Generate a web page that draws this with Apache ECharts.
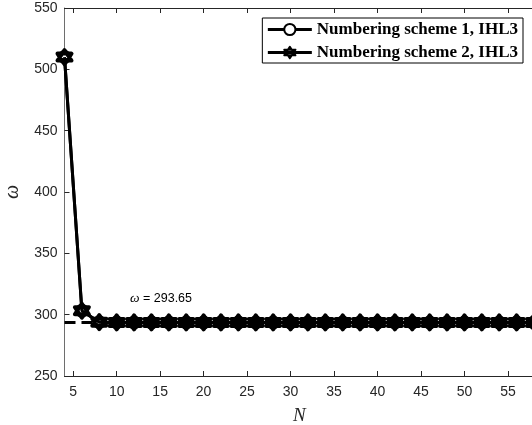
<!DOCTYPE html>
<html>
<head>
<meta charset="utf-8">
<script src="https://cdn.jsdelivr.net/npm/echarts@6/dist/echarts.min.js"></script>
<style>
  html, body { margin: 0; padding: 0; background: #fff; }
  #chart { width: 532px; height: 425px; }
</style>
</head>
<body>
<div id="chart"></div>
<script>
// Number of elements N and the resulting eigenfrequency omega
const nValues = [4, 6, 8, 10, 12, 14, 16, 18, 20, 22, 24, 26, 28, 30, 32, 34, 36, 38, 40, 42, 44, 46, 48, 50, 52, 54, 56, 58];
const omegaScheme1 = [510, 303.2, 293.9, 293.7, 293.65, 293.65, 293.65, 293.65, 293.65, 293.65, 293.65, 293.65, 293.65, 293.65, 293.65, 293.65, 293.65, 293.65, 293.65, 293.65, 293.65, 293.65, 293.65, 293.65, 293.65, 293.65, 293.65, 293.65];
const omegaScheme2 = [510, 303.2, 293.9, 293.7, 293.65, 293.65, 293.65, 293.65, 293.65, 293.65, 293.65, 293.65, 293.65, 293.65, 293.65, 293.65, 293.65, 293.65, 293.65, 293.65, 293.65, 293.65, 293.65, 293.65, 293.65, 293.65, 293.65, 293.65];
const seriesNames = ['Numbering scheme 1, IHL3', 'Numbering scheme 2, IHL3'];
const xTicks = [5, 10, 15, 20, 25, 30, 35, 40, 45, 50, 55];
const convergedOmega = 293.65;

const hexagram = 'path://M0,-10L8.66,5L-8.66,5Z M0,10L8.66,-5L-8.66,-5Z';
const axisColor = '#262626';

const chart = echarts.init(document.getElementById('chart'));
chart.setOption({
  animation: false,
  backgroundColor: '#fff',
  grid: { left: 64.5, right: -2, top: 8, bottom: 49, outerBoundsMode: 'none', containLabel: false },
  legend: {
    orient: 'vertical',
    right: 9,
    top: 18,
    data: seriesNames,
    itemWidth: 44,
    itemHeight: 14,
    itemGap: 6,
    padding: [3, 5, 2, 4],
    borderColor: '#000',
    borderWidth: 1,
    backgroundColor: '#fff',
    lineStyle: { width: 3, color: '#000' },
    textStyle: { fontFamily: 'Liberation Serif', fontWeight: 'bold', fontSize: 17, color: '#000' }
  },
  xAxis: [{
    type: 'value', min: 4, max: 58,
    name: 'N', nameLocation: 'middle', nameGap: 30,
    nameTextStyle: { fontFamily: 'Liberation Serif', fontStyle: 'italic', fontSize: 19, color: axisColor },
    axisLine: { show: true, onZero: false, lineStyle: { color: axisColor, width: 1 } },
    axisTick: { show: true, inside: true, length: 5, customValues: xTicks, lineStyle: { color: axisColor } },
    axisLabel: { customValues: xTicks, margin: 9, fontFamily: 'Liberation Sans', fontSize: 14, color: axisColor },
    splitLine: { show: false }
  }, {
    type: 'value', min: 4, max: 58, position: 'top',
    axisLine: { show: true, onZero: false, lineStyle: { color: axisColor, width: 1 } },
    axisTick: { show: true, inside: true, length: 5, customValues: xTicks, lineStyle: { color: axisColor } },
    axisLabel: { show: false },
    splitLine: { show: false }
  }],
  yAxis: [{
    type: 'value', min: 250, max: 550, interval: 50,
    name: 'ω', nameLocation: 'middle', nameGap: 42, nameRotate: 90,
    nameTextStyle: { fontFamily: 'Liberation Serif', fontStyle: 'italic', fontSize: 20, color: axisColor },
    axisLine: { show: true, onZero: false, lineStyle: { color: '#6e6e6e', width: 1 } },
    axisTick: { show: true, inside: true, length: 5, lineStyle: { color: axisColor } },
    axisLabel: { margin: 7, fontFamily: 'Liberation Sans', fontSize: 14, color: axisColor },
    splitLine: { show: false }
  }],
  series: [{
    name: 'converged',
    type: 'line',
    data: [[4, convergedOmega], [58, convergedOmega]],
    symbol: 'none',
    lineStyle: { color: '#000', width: 3, type: [11, 6] },
    z: 1,
    silent: true,
    markPoint: {
      symbol: 'circle',
      symbolSize: 1,
      itemStyle: { color: 'rgba(0,0,0,0)' },
      data: [{ coord: [15.1, 313.5] }],
      label: {
        show: true,
        position: 'inside',
        formatter: '{w|ω} = ' + convergedOmega.toFixed(2),
        fontFamily: 'Liberation Sans',
        fontSize: 12.5,
        color: '#000',
        rich: { w: { fontFamily: 'Liberation Serif', fontStyle: 'italic', fontSize: 13.5, color: '#000' } }
      }
    }
  }, {
    name: seriesNames[0],
    type: 'line',
    data: nValues.map((n, i) => [n, omegaScheme1[i]]),
    symbol: 'circle',
    symbolSize: 11,
    showAllSymbol: true,
    clip: false,
    lineStyle: { color: '#000', width: 3 },
    itemStyle: { color: '#fff', borderColor: '#000', borderWidth: 3 },
    z: 2
  }, {
    name: seriesNames[1],
    type: 'line',
    data: nValues.map((n, i) => [n, omegaScheme2[i]]),
    symbol: hexagram,
    symbolSize: 14,
    showAllSymbol: true,
    clip: false,
    lineStyle: { color: '#000', width: 3 },
    itemStyle: { color: '#fff', borderColor: '#000', borderWidth: 4, borderJoin: 'round' },
    z: 3
  }]
});
</script>
</body>
</html>
